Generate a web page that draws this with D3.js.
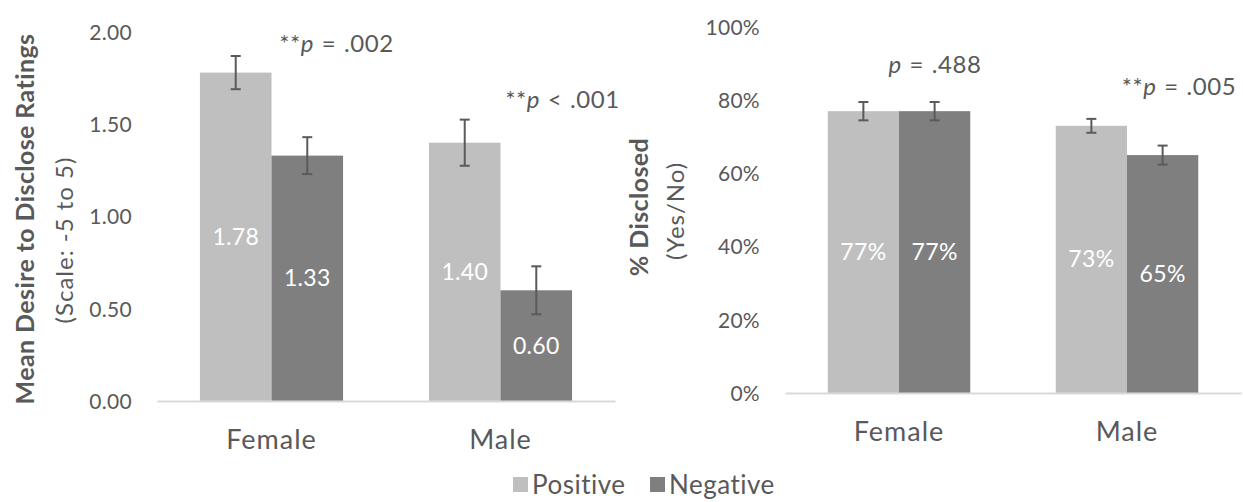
<!DOCTYPE html>
<html>
<head>
<meta charset="utf-8">
<script src="https://cdn.jsdelivr.net/npm/d3@7"></script>
<style>
  html, body { margin: 0; padding: 0; background: #fff; }
  svg { display: block; font-family: Lato, "Open Sans", sans-serif; }
</style>
</head>
<body>
<svg id="chart" width="1243" height="502"></svg>
<script>
// ---------- data ----------
const categories = ["Female", "Male"];
const series = ["Positive", "Negative"];

// Left panel: mean desire to disclose ratings
const desirePositive = [1.78, 1.40];
const desireNegative = [1.33, 0.60];
const desirePositiveErr = [0.09, 0.125];
const desireNegativeErr = [0.10, 0.13];
const desireTicks = [0, 0.5, 1.0, 1.5, 2.0];
const desirePLabels = ["**p = .002", "**p < .001"];

// Right panel: % disclosed
const disclosedPositive = [77, 73];
const disclosedNegative = [77, 65];
const disclosedPositiveErr = [2.5, 1.9];
const disclosedNegativeErr = [2.5, 2.6];
const disclosedTicks = [0, 20, 40, 60, 80, 100];
const disclosedPLabels = ["p = .488", "**p = .005"];

// ---------- styles ----------
const colors = { Positive: "#bfbfbf", Negative: "#7f7f7f" };
const textColor = "#595959";
const errColor = "#5a5a5a";
const axisColor = "#d9d9d9";

const svg = d3.select("#chart");

function panel(cfg) {
  const g = svg.append("g");
  const x = d3.scaleBand().domain(categories).range(cfg.xRange)
    .paddingInner(0.375).paddingOuter(0.1875);
  const xi = d3.scaleBand().domain(series).range([0, x.bandwidth()]);
  const y = d3.scaleLinear().domain(cfg.yDomain).range(cfg.yRange);

  // y tick labels (no axis line, no ticks)
  const yAxis = d3.axisLeft(y).tickValues(cfg.ticks).tickFormat(cfg.tickFormat).tickSize(0).tickPadding(0);
  const ya = g.append("g").attr("transform", `translate(${cfg.xRange[0] - 25},0)`).call(yAxis);
  ya.select(".domain").remove();
  ya.selectAll("text").attr("fill", textColor).style("font-size", "21px")
    .style("font-family", "Lato, sans-serif").style("letter-spacing", "0.3px").attr("dy", "0.35em");

  // bars
  const rows = [];
  categories.forEach((c, i) => {
    rows.push({ cat: c, s: "Positive", v: cfg.pos[i], e: cfg.posErr[i] });
    rows.push({ cat: c, s: "Negative", v: cfg.neg[i], e: cfg.negErr[i] });
  });
  g.selectAll("rect.bar").data(rows).join("rect")
    .attr("class", "bar")
    .attr("x", d => x(d.cat) + xi(d.s))
    .attr("width", xi.bandwidth())
    .attr("y", d => y(d.v))
    .attr("height", d => y(cfg.yDomain[0]) - y(d.v))
    .attr("fill", d => colors[d.s]);

  // x axis line
  const xAxis = d3.axisBottom(x).tickSize(0).tickPadding(0);
  const xa = g.append("g").attr("transform", `translate(0,${y(cfg.yDomain[0])})`).call(xAxis);
  xa.select(".domain").attr("stroke", axisColor).attr("stroke-width", 2);
  xa.selectAll("text").attr("fill", textColor).style("font-size", "27px")
    .style("font-family", "Lato, sans-serif").style("letter-spacing", "1px")
    .attr("dy", null).attr("y", 48);

  // error bars
  const eb = g.selectAll("g.err").data(rows).join("g").attr("class", "err")
    .attr("transform", d => `translate(${x(d.cat) + xi(d.s) + xi.bandwidth() / 2},0)`);
  eb.append("line").attr("x1", 0).attr("x2", 0)
    .attr("y1", d => y(d.v + d.e)).attr("y2", d => y(d.v - d.e))
    .attr("stroke", errColor).attr("stroke-width", 2);
  eb.append("line").attr("x1", -5).attr("x2", 5)
    .attr("y1", d => y(d.v + d.e)).attr("y2", d => y(d.v + d.e))
    .attr("stroke", errColor).attr("stroke-width", 2);
  eb.append("line").attr("x1", -5).attr("x2", 5)
    .attr("y1", d => y(d.v - d.e)).attr("y2", d => y(d.v - d.e))
    .attr("stroke", errColor).attr("stroke-width", 2);

  // value labels (centered in bars)
  g.selectAll("text.val").data(rows).join("text").attr("class", "val")
    .attr("x", d => x(d.cat) + xi(d.s) + xi.bandwidth() / 2)
    .attr("y", d => (y(d.v) + y(cfg.yDomain[0])) / 2)
    .attr("dy", "0.35em")
    .attr("text-anchor", "middle")
    .attr("fill", "#ffffff")
    .style("font-size", "23px")
    .style("letter-spacing", "0.3px")
    .text(d => cfg.valFormat(d.v));

  // p-value annotations
  cfg.pLabels.forEach((lab, i) => {
    const t = g.append("text")
      .attr("x", x(categories[i]) + x.bandwidth() / 2 + cfg.pDx[i])
      .attr("y", y(cfg.pY[i]))
      .attr("text-anchor", "middle")
      .attr("fill", textColor)
      .style("font-size", "24px")
      .style("letter-spacing", "0.6px")
      .style("word-spacing", "1px");
    const m = lab.match(/^(\**)p(.*)$/);
    t.append("tspan").text(m[1]);
    t.append("tspan").style("font-style", "italic").text("p");
    t.append("tspan").text(m[2]);
  });

  // axis titles
  g.append("text")
    .attr("transform", `translate(${cfg.title1X},${cfg.title1Y}) rotate(-90)`)
    .attr("text-anchor", "middle").attr("fill", textColor)
    .style("font-size", "25px").style("font-weight", "bold")
    .style("letter-spacing", "0.4px")
    .text(cfg.title1);
  g.append("text")
    .attr("transform", `translate(${cfg.title2X},${cfg.title2Y}) rotate(-90)`)
    .attr("text-anchor", "middle").attr("fill", textColor)
    .style("font-size", "24px").style("letter-spacing", "1px")
    .text(cfg.title2);
}

panel({
  xRange: [157, 615], yDomain: [0, 2], yRange: [401, 32],
  ticks: desireTicks, tickFormat: d3.format(".2f"), valFormat: d3.format(".2f"),
  pos: desirePositive, neg: desireNegative, posErr: desirePositiveErr, negErr: desireNegativeErr,
  pLabels: desirePLabels, pDx: [65, 62], pY: [1.89, 1.59],
  title1: "Mean Desire to Disclose Ratings", title1X: 34, title1Y: 219,
  title2: "(Scale: -5 to 5)", title2X: 73, title2Y: 240
});

panel({
  xRange: [785, 1241], yDomain: [0, 100], yRange: [393, 27],
  ticks: disclosedTicks, tickFormat: d => d + "%", valFormat: d => d + "%",
  pos: disclosedPositive, neg: disclosedNegative, posErr: disclosedPositiveErr, negErr: disclosedNegativeErr,
  pLabels: disclosedPLabels, pDx: [36, 52], pY: [87.4, 81.4],
  title1: "% Disclosed", title1X: 648, title1Y: 207,
  title2: "(Yes/No)", title2X: 684, title2Y: 211
});

// legend
const legend = svg.append("g").attr("transform", "translate(0,485)");
const legendItems = [{ s: "Positive", x: 513 }, { s: "Negative", x: 650 }];
legendItems.forEach(it => {
  legend.append("rect").attr("x", it.x).attr("y", -8).attr("width", 15).attr("height", 15)
    .attr("fill", colors[it.s]);
  legend.append("text").attr("x", it.x + 19).attr("y", 0).attr("dy", "0.35em")
    .attr("fill", textColor).style("font-size", "26px").style("letter-spacing", "0.5px").text(it.s);
});
</script>
</body>
</html>
